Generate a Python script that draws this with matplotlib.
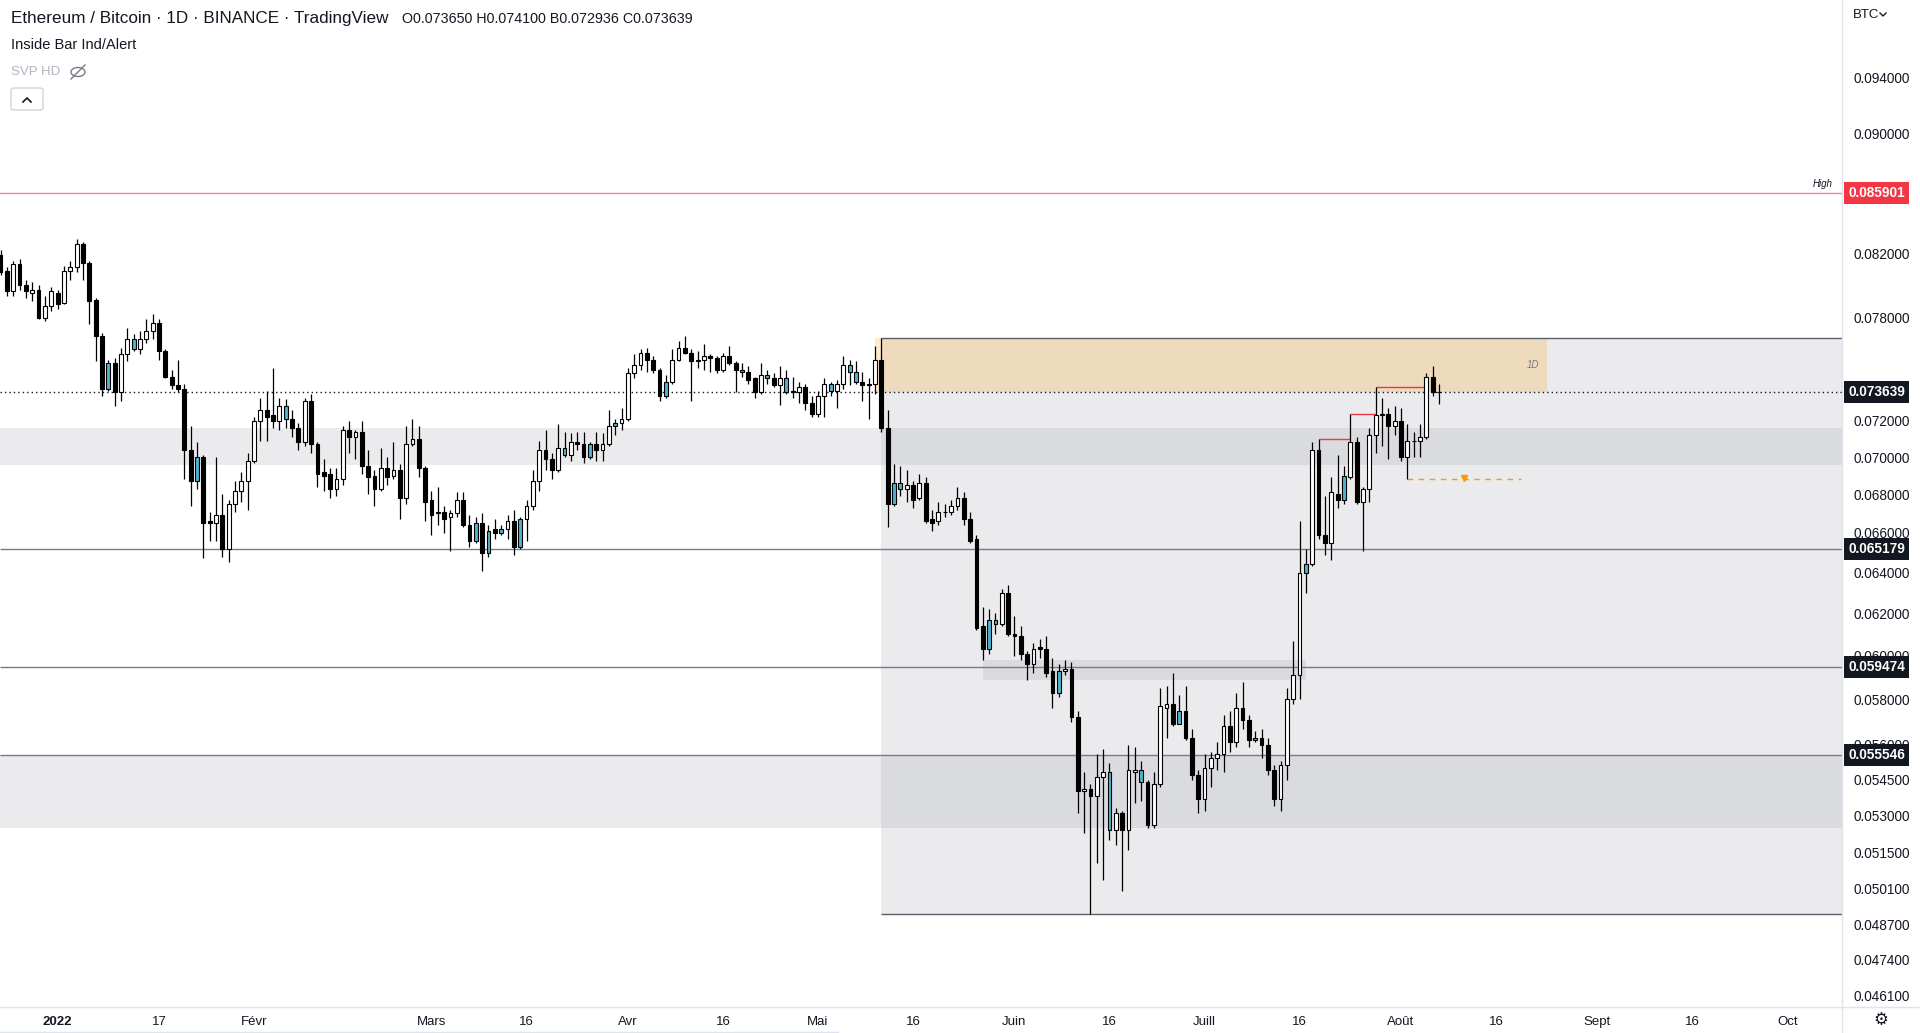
import pandas as pd
import matplotlib
matplotlib.use('Agg')
import matplotlib.pyplot as plt
import matplotlib.dates as mdates
from matplotlib.patches import Rectangle, FancyBboxPatch, Ellipse
from matplotlib.lines import Line2D
from matplotlib.ticker import NullLocator
from matplotlib.transforms import blended_transform_factory

plt.rcParams['font.family'] = ['Liberation Sans', 'DejaVu Sans']

# ---- data (ETH/BTC daily, Binance) ----
start_date = '2021-12-23'
opens = [.0819, .0809, .0796, .0813, .0800, .0795, .0797, .0780, .0787,
         .0795, .0789, .0809, .0811, .0826, .0814, .0791, .0769, .0738, .0753,
         .0736, .0758, .0767, .0761, .0767, .0772, .0777, .0760, .0745, .0740,
         .0738, .0704, .0687, .0700, .0666, .0665, .0669, .0652, .0675, .0682,
         .0687, .0698, .0720, .0726, .0723, .0720, .0728, .0721, .0716, .0708,
         .0731, .0707, .0692, .0691, .0683, .0688, .0715, .0711, .0714, .0695,
         .0690, .0683, .0694, .0690, .0693, .0678, .0707, .0710, .0694, .0677,
         .0670, .0671, .0668, .0670, .0677, .0664, .0665, .0665, .0650, .0662,
         .0662, .0662, .0666, .0653, .0667, .0674, .0687, .0704, .0699, .0693,
         .0705, .0701, .0708, .0707, .0700, .0707, .0704, .0707, .0717, .0719,
         .0721, .0747, .0752, .0759, .0755, .0749, .0734, .0742, .0755, .0762,
         .0759, .0755, .0755, .0757, .0756, .0749, .0757, .0753, .0749, .0748,
         .0744, .0736, .0746, .0744, .0740, .0744, .0737, .0736, .0739, .0730,
         .0724, .0734, .0741, .0737, .0741, .0752, .0748, .0742, .0741, .0741,
         .0755, .0716, .0675, .0686, .0683, .0685, .0678, .0686, .0667, .0666,
         .0671, .0671, .0674, .0678, .0667, .0657, .0614, .0603, .0617, .0615,
         .0630, .0610, .0609, .0601, .0596, .0604, .0603, .0593, .0583, .0593,
         .0594, .0572, .0540, .0541, .0538, .0546, .0548, .0524, .0531, .0524,
         .0548, .0549, .0544, .0526, .0543, .0576, .0578, .0575, .0575, .0563,
         .0547, .0537, .0550, .0554, .0556, .0568, .0561, .0576, .0571, .0563,
         .0563, .0560, .0549, .0537, .0551, .0580, .0591, .0640, .0644, .0704,
         .0659, .0655, .0680, .0677, .0689, .0708, .0676, .0683, .0712, .0723,
         .0724, .0717, .0720, .0700, .0709, .0709, .0711, .0745, .073650]
highs = [.0822, .0811, .0815, .0816, .0803, .0802, .0800, .0793, .0799,
         .0797, .0812, .0815, .0829, .0827, .0815, .0792, .0771, .0755, .0756,
         .0762, .0774, .0770, .0772, .0779, .0782, .0779, .0761, .0749, .0755,
         .0741, .0717, .0708, .0701, .0671, .0700, .0680, .0677, .0687, .0692,
         .0702, .0722, .0733, .0737, .0750, .0733, .0732, .0726, .0719, .0733,
         .0735, .0708, .0699, .0694, .0694, .0717, .0720, .0715, .0720, .0704,
         .0693, .0705, .0700, .0708, .0696, .0717, .0721, .0717, .0695, .0682,
         .0684, .0674, .0672, .0681, .0681, .0669, .0668, .0670, .0664, .0667,
         .0664, .0669, .0672, .0668, .0677, .0693, .0709, .0715, .0702, .0718,
         .0714, .0713, .0714, .0714, .0708, .0714, .0713, .0726, .0721, .0727,
         .0750, .0758, .0761, .0762, .0757, .0750, .0746, .0761, .0766, .0769,
         .0761, .0760, .0764, .0758, .0757, .0759, .0763, .0754, .0753, .0751,
         .0745, .0753, .0749, .0747, .0751, .0749, .0745, .0742, .0741, .0734,
         .0737, .0744, .0742, .0743, .0757, .0755, .0754, .0748, .0744, .0763,
         .0768, .0726, .0696, .0695, .0693, .0687, .0691, .0689, .0672, .0676,
         .0675, .0677, .0684, .0681, .0671, .0659, .0623, .0622, .0620, .0632,
         .0634, .0619, .0614, .0602, .0606, .0608, .0609, .0599, .0596, .0598,
         .0597, .0575, .0548, .0543, .0556, .0558, .0552, .0533, .0532, .0560,
         .0559, .0553, .0545, .0548, .0585, .0586, .0592, .0582, .0586, .0567,
         .0549, .0556, .0557, .0561, .0573, .0575, .0583, .0588, .0573, .0566,
         .0567, .0563, .0551, .0553, .0585, .0607, .0666, .0652, .0708, .0710,
         .0679, .0689, .0701, .0695, .0724, .0711, .0684, .0716, .0739, .0733,
         .0727, .0728, .0727, .0718, .0714, .0718, .0747, .0751, .074100]
lows = [.0806, .0793, .0793, .0797, .0792, .0790, .0779, .0778, .0784,
        .0785, .0788, .0803, .0808, .0803, .0776, .0754, .0734, .0737, .0728,
        .0731, .0754, .0760, .0758, .0765, .0767, .0755, .0744, .0738, .0736,
        .0688, .0674, .0683, .0647, .0656, .0656, .0648, .0645, .0671, .0676,
        .0672, .0697, .0709, .0709, .0716, .0715, .0716, .0711, .0704, .0706,
        .0702, .0684, .0682, .0678, .0679, .0685, .0702, .0699, .0691, .0680,
        .0674, .0682, .0685, .0688, .0667, .0675, .0706, .0689, .0666, .0659,
        .0664, .0660, .0651, .0668, .0663, .0653, .0655, .0641, .0648, .0657,
        .0659, .0657, .0649, .0652, .0656, .0672, .0682, .0693, .0688, .0692,
        .0700, .0698, .0704, .0697, .0699, .0698, .0698, .0706, .0712, .0715,
        .0720, .0744, .0749, .0748, .0747, .0731, .0733, .0741, .0754, .0758,
        .0731, .0750, .0749, .0748, .0747, .0748, .0752, .0736, .0745, .0741,
        .0733, .0735, .0741, .0739, .0729, .0735, .0733, .0730, .0726, .0722,
        .0722, .0722, .0734, .0727, .0738, .0740, .0741, .0731, .0721, .0735,
        .0714, .0663, .0674, .0679, .0676, .0673, .0677, .0665, .0661, .0664,
        .0668, .0669, .0672, .0664, .0655, .0612, .0598, .0601, .0610, .0614,
        .0609, .0600, .0598, .0589, .0592, .0599, .0590, .0576, .0581, .0591,
        .0570, .0531, .0523, .0491, .0511, .0504, .0520, .0518, .0500, .0516,
        .0535, .0536, .0525, .0525, .0542, .0563, .0568, .0569, .0562, .0545,
        .0531, .0532, .0542, .0549, .0548, .0557, .0559, .0567, .0559, .0561,
        .0554, .0547, .0534, .0532, .0545, .0578, .0580, .0630, .0643, .0657,
        .0649, .0646, .0673, .0675, .0688, .0675, .0651, .0676, .0702, .0706,
        .0699, .0712, .0698, .0688, .0700, .0700, .0710, .0734, .072936]
closes = [.0808, .0796, .0813, .0800, .0796, .0797, .0780, .0787, .0796,
          .0788, .0809, .0811, .0826, .0814, .0790, .0769, .0738, .0753, .0736,
          .0758, .0767, .0761, .0767, .0772, .0777, .0760, .0745, .0740, .0738,
          .0704, .0687, .0700, .0665, .0665, .0669, .0652, .0675, .0682, .0687,
          .0698, .0720, .0726, .0722, .0720, .0728, .0721, .0716, .0708, .0731,
          .0707, .0691, .0690, .0683, .0688, .0715, .0711, .0714, .0695, .0689,
          .0683, .0694, .0689, .0693, .0678, .0707, .0710, .0694, .0676, .0669,
          .0671, .0667, .0670, .0677, .0664, .0656, .0656, .0650, .0661, .0660,
          .0660, .0666, .0653, .0667, .0674, .0687, .0704, .0699, .0693, .0705,
          .0701, .0708, .0707, .0700, .0707, .0704, .0707, .0717, .0719, .0721,
          .0747, .0752, .0759, .0755, .0749, .0734, .0742, .0755, .0762, .0759,
          .0754, .0754, .0757, .0756, .0749, .0757, .0753, .0749, .0748, .0743,
          .0736, .0746, .0744, .0740, .0744, .0736, .0736, .0739, .0730, .0724,
          .0734, .0741, .0737, .0741, .0752, .0748, .0742, .0740, .0740, .0755,
          .0716, .0675, .0686, .0683, .0685, .0677, .0686, .0666, .0665, .0671,
          .0671, .0674, .0678, .0667, .0656, .0613, .0603, .0617, .0615, .0630,
          .0610, .0609, .0601, .0596, .0603, .0603, .0592, .0583, .0593, .0594,
          .0572, .0540, .0541, .0538, .0546, .0548, .0524, .0531, .0524, .0549,
          .0549, .0544, .0526, .0543, .0577, .0578, .0569, .0569, .0563, .0547,
          .0537, .0550, .0554, .0556, .0568, .0561, .0576, .0571, .0562, .0562,
          .0560, .0549, .0537, .0551, .0580, .0591, .0640, .0644, .0704, .0659,
          .0655, .0681, .0677, .0690, .0708, .0676, .0683, .0712, .0723, .0724,
          .0717, .0720, .0700, .0709, .0709, .0711, .0745, .0736, .073639]

# bars coloured blue by the "Inside Bar Ind/Alert" indicator
inside_days = ['2022-01-09', '2022-01-13', '2022-01-23', '2022-02-06', '2022-03-08',
               '2022-03-10', '2022-03-12', '2022-03-15', '2022-03-22', '2022-03-26',
               '2022-03-30', '2022-04-07', '2022-04-12', '2022-04-19', '2022-04-23',
               '2022-04-26', '2022-05-03', '2022-05-06', '2022-05-07', '2022-05-13',
               '2022-05-14', '2022-05-28', '2022-05-29', '2022-06-08', '2022-06-16',
               '2022-06-21', '2022-06-27', '2022-07-09', '2022-07-17', '2022-07-23',
               '2022-07-29']

# 0.086000 sits fully under the red "High" price tag, so it is left out
price_ticks = [0.094, 0.090, 0.082, 0.078, 0.074, 0.072, 0.070, 0.068, 0.066,
               0.064, 0.062, 0.060, 0.058, 0.056, 0.0545, 0.053, 0.0515, 0.0501,
               0.0487, 0.0474, 0.0461]
date_ticks = ['2022-01-01', '2022-01-17', '2022-02-01', '2022-03-01', '2022-03-16',
              '2022-04-01', '2022-04-16', '2022-05-01', '2022-05-16', '2022-06-01',
              '2022-06-16', '2022-07-01', '2022-07-16', '2022-08-01', '2022-08-16',
              '2022-09-01', '2022-09-16', '2022-10-01']
date_labels = ['2022', '17', 'Févr', 'Mars', '16', 'Avr', '16', 'Mai', '16', 'Juin',
               '16', 'Juill', '16', 'Août', '16', 'Sept', '16', 'Oct']

high_level = 0.085901
last_price = 0.073639
levels = [0.065179, 0.059474, 0.055546]
zone_top, zone_bottom = 0.0768, 0.0491
bands = [(0.07158, 0.06956), (0.055546, 0.0525)]
small_band = ('2022-05-27', '2022-07-17', 0.0598, 0.0589)
orange_zone = ('2022-05-10', '2022-08-24', 0.0768, 0.07364)
zone_start = '2022-05-11'
ib_highs = [('2022-07-19', '2022-07-24', 0.0710),
            ('2022-07-24', '2022-07-28', 0.0724),
            ('2022-07-28', '2022-08-05', 0.0739)]
ib_low = ('2022-08-02', '2022-08-20', 0.0688)
ib_marker_day = '2022-08-11'

W, H = 1920, 1033


def px(x, y):
    return x / W, 1 - y / H


def dn(s):
    return mdates.date2num(pd.Timestamp(s))


fig = plt.figure(figsize=(19.2, 10.33), dpi=100, facecolor='white')
ax = fig.add_axes([0, 26.5 / H, 1842 / W, 1006.5 / H])
ax.set_facecolor('white')
ax.set_yscale('log')

dates = pd.date_range(start_date, periods=len(opens), freq='D')
x = mdates.date2num(dates)
x0 = dn('2022-01-01') - 9.09
x1 = dn('2022-01-01') + 281.6
ax.set_xlim(x0, x1)
ax.set_ylim(0.0457, 0.0998)

grey = '#9598A1'
# zones
ax.add_patch(Rectangle((dn(zone_start), zone_bottom), x1 - dn(zone_start), zone_top - zone_bottom,
                       facecolor=grey, alpha=0.19, edgecolor='none', zorder=1))
for top, bot in bands:
    ax.add_patch(Rectangle((x0, bot), x1 - x0, top - bot, facecolor=grey, alpha=0.19,
                           edgecolor='none', zorder=1))
ax.add_patch(Rectangle((dn(small_band[0]), small_band[3]), dn(small_band[1]) - dn(small_band[0]),
                       small_band[2] - small_band[3], facecolor=grey, alpha=0.19,
                       edgecolor='none', zorder=1))
ax.add_patch(Rectangle((dn(orange_zone[0]), orange_zone[3]), dn(orange_zone[1]) - dn(orange_zone[0]),
                       orange_zone[2] - orange_zone[3], facecolor='#FF9800', alpha=0.2,
                       edgecolor='none', zorder=1.1))
ax.hlines([zone_top, zone_bottom], dn(zone_start), x1, color='#5D606B', lw=1.0, zorder=1.5)
ax.text(dn(orange_zone[1]) - 1.2, 0.0752, '1D', fontsize=7, style='italic', color='#787B86',
        ha='right', va='center', zorder=2)

# horizontal levels
ax.axhline(high_level, color='#F7858A', lw=1.0, zorder=1.5)
ax.hlines(levels, x0, x1, color='#787B86', lw=1.0, zorder=1.5)
ax.axhline(last_price, color='#131722', lw=1.0, ls=(0, (1, 2.2)), zorder=1.6)

# candles
fills = []
inside_set = set(pd.to_datetime(inside_days))
for d, o, c in zip(dates, opens, closes):
    if d in inside_set:
        fills.append('#4FB3D0')
    elif c >= o:
        fills.append('white')
    else:
        fills.append('black')
bottoms = [min(o, c) for o, c in zip(opens, closes)]
heights = [max(abs(c - o), 1e-6) for o, c in zip(opens, closes)]
ax.vlines(x, lows, highs, color='black', lw=0.9, zorder=3)
ax.bar(x, heights, bottom=bottoms, width=0.6, color=fills, edgecolor='black',
       linewidth=0.8, zorder=4)

# inside bar indicator lines
for a, b, lvl in ib_highs:
    ax.hlines(lvl, dn(a), dn(b), color='#F23645', lw=1.0, zorder=2.5)
ax.hlines(ib_low[2], dn(ib_low[0]), dn(ib_low[1]), color='#FF9800', lw=1.0,
          linestyles=(0, (4, 4)), zorder=2.5)
ax.plot([dn(ib_marker_day)], [ib_low[2] * 1.0012], marker='v', color='#FF9800',
        markersize=4, zorder=2.6)

# axes styling
for s in ['top', 'left', 'right', 'bottom']:
    ax.spines[s].set_visible(False)
ax.yaxis.tick_right()
ax.set_yticks(price_ticks)
ax.set_yticklabels([f'{p:.6f}' for p in price_ticks])
ax.yaxis.set_minor_locator(NullLocator())
ax.tick_params(axis='y', length=0, pad=8, labelsize=9.8, labelcolor='#131722')
ax.set_xticks([dn(d) for d in date_ticks])
ax.set_xticklabels(date_labels)
ax.xaxis.set_minor_locator(NullLocator())
ax.tick_params(axis='x', length=0, pad=7, labelsize=9.5, labelcolor='#131722')
ax.get_xticklabels()[0].set_fontweight('bold')

# price labels on the axis
trans = blended_transform_factory(ax.transAxes, ax.transData)
ax.text(1.0035, high_level, f'{high_level:.6f}', transform=trans, ha='left', va='center',
        fontsize=9.8, fontweight='bold', color='white', clip_on=False, zorder=6,
        bbox=dict(boxstyle='square,pad=0.3', fc='#F23645', ec='none'))
for lvl in [last_price] + levels:
    ax.text(1.0035, lvl, f'{lvl:.6f}', transform=trans, ha='left', va='center',
            fontsize=9.8, fontweight='bold', color='white', clip_on=False, zorder=6,
            bbox=dict(boxstyle='square,pad=0.3', fc='#131722', ec='none'))
ax.annotate('High', xy=(0.995, high_level), xycoords=trans, xytext=(0, 3),
            textcoords='offset points', ha='right', va='bottom', fontsize=7,
            style='italic', color='#131722')

# separators
fig.add_artist(Line2D([1842 / W, 1842 / W], [0, 1], transform=fig.transFigure,
                      color='#E0E3EB', lw=1))
fig.add_artist(Line2D([0, 1], [26.5 / H, 26.5 / H], transform=fig.transFigure,
                      color='#E0E3EB', lw=1))
fig.add_artist(Line2D([0, 838 / W], [1.5 / H, 1.5 / H], transform=fig.transFigure,
                      color='#E0E3EB', lw=1))

# header
fig.text(*px(11, 18), 'Ethereum / Bitcoin · 1D · BINANCE · TradingView', fontsize=12.3,
         color='#131722', va='center', ha='left')
fig.text(*px(402, 19), 'O0.073650 H0.074100 B0.072936 C0.073639', fontsize=10.3,
         color='#131722', va='center', ha='left')
fig.text(*px(11, 45), 'Inside Bar Ind/Alert', fontsize=10.5, color='#131722', va='center', ha='left')
fig.text(*px(11, 72), 'SVP HD', fontsize=9.5, color='#B2B5BE', va='center', ha='left')
fig.add_artist(Ellipse(px(78, 72), 14 / W, 9 / H, transform=fig.transFigure,
                       fill=False, ec='#787B86', lw=1))
fig.add_artist(Line2D([px(71, 79)[0], px(85, 65)[0]], [px(71, 79)[1], px(85, 65)[1]],
                      transform=fig.transFigure, color='#787B86', lw=1))
fig.add_artist(FancyBboxPatch(px(11, 110), 32 / W, 22 / H, boxstyle='round,pad=0,rounding_size=0.002',
                              transform=fig.transFigure, fc='white', ec='#D1D4DC', lw=1))
fig.add_artist(Line2D([px(23, 102)[0], px(27, 98)[0], px(31, 102)[0]],
                      [px(23, 102)[1], px(27, 98)[1], px(31, 102)[1]],
                      transform=fig.transFigure, color='#131722', lw=1.2))
fig.text(*px(1853, 15), 'BTC', fontsize=9.5, color='#131722', va='center', ha='left')
fig.add_artist(Line2D([px(1880, 13)[0], px(1883, 16)[0], px(1886, 13)[0]],
                      [px(1880, 13)[1], px(1883, 16)[1], px(1886, 13)[1]],
                      transform=fig.transFigure, color='#131722', lw=1))
fig.text(*px(1881, 1020), '⚙', fontsize=12, color='#131722', va='center', ha='center',
         family=['DejaVu Sans'])

fig.savefig('out.png', dpi=100, facecolor='white')
